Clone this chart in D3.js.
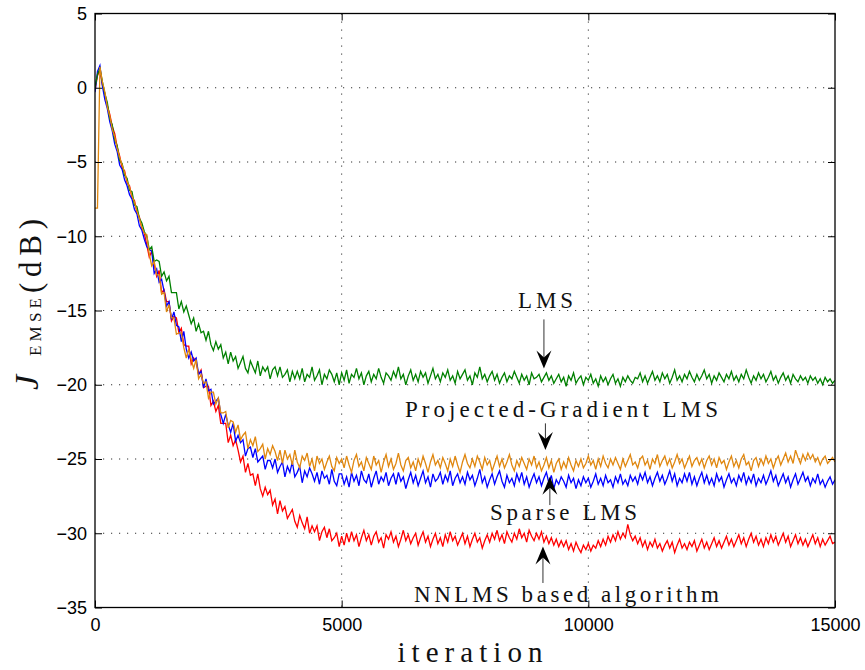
<!DOCTYPE html>
<html lang="en">

<head>
	<meta charset="utf-8">
	<script src="https://d3js.org/d3.v7.min.js"></script>
	<style>
		body {
			margin: 0;
			background-color: white;
		}

		svg {
			display: block;
			background-color: white;
		}

		.axis text {
			font-family: 'Liberation Sans', Arial, sans-serif;
			font-size: 18px;
			fill: #000;
		}

		.axis line {
			stroke: #000;
			stroke-width: 1;
		}

		.axis path {
			display: none;
		}

		.grid line {
			stroke: #333;
			stroke-width: 1;
			stroke-dasharray: 1.2, 6.8;
		}

		.frame {
			fill: none;
			stroke: #000;
			stroke-width: 1.3;
		}

		.series {
			fill: none;
			stroke-width: 1.3;
			stroke-linejoin: miter;
		}

		.note {
			font-family: 'Liberation Serif', 'DejaVu Serif', serif;
			font-size: 23px;
			fill: #111;
		}

		.arrow line {
			stroke: #333;
			stroke-width: 1;
		}

		.arrow path {
			fill: #000;
		}

		.label {
			font-family: 'Liberation Serif', 'DejaVu Serif', serif;
			fill: #111;
		}
	</style>
</head>

<body>
	<svg width="865" height="670"></svg>
	<script>
		// ---- data (one value every 50 iterations) ----
		const iterations = d3.range(0, 15001, 50);

		const lmsValues = [
			0.0, 0.9, 1.3, 0.4, -0.4, -1.0, -2.1, -2.5, -3.5, -3.9,
			-4.9, -5.1, -5.9, -6.1, -6.9, -7.0, -7.9, -8.0, -8.8, -9.1,
			-9.7, -10.0, -10.9, -10.7, -11.7, -11.6, -11.7, -12.7, -12.4, -13.0,
			-12.7, -13.8, -13.8, -13.8, -14.9, -14.4, -15.1, -14.7, -15.3, -15.9,
			-15.5, -16.4, -15.9, -16.5, -16.4, -17.0, -16.4, -17.3, -17.7, -17.1,
			-17.6, -17.3, -18.2, -17.8, -18.6, -17.8, -18.4, -18.1, -18.9, -18.5,
			-18.1, -18.9, -19.2, -18.4, -18.8, -19.2, -18.4, -19.4, -18.8, -19.1,
			-18.8, -19.6, -19.0, -18.8, -19.4, -18.8, -19.5, -19.3, -19.0, -19.8,
			-19.1, -19.6, -19.1, -19.6, -18.9, -19.8, -19.3, -19.5, -18.8, -19.7,
			-19.4, -19.0, -20.0, -19.3, -19.6, -19.0, -19.3, -19.8, -19.2, -20.0,
			-19.2, -19.7, -19.0, -19.9, -19.3, -19.5, -18.9, -19.6, -19.2, -20.0,
			-19.4, -19.1, -19.8, -19.3, -19.6, -18.9, -19.5, -19.9, -19.2, -19.4,
			-19.7, -19.1, -19.5, -18.8, -19.6, -19.3, -20.0, -19.4, -19.0, -19.7,
			-19.3, -19.8, -19.1, -19.5, -19.2, -19.9, -19.4, -18.9, -19.6, -19.3,
			-19.8, -19.2, -19.5, -19.0, -19.7, -19.4, -19.9, -19.1, -19.6, -19.3,
			-19.0, -19.7, -19.4, -20.0, -19.2, -19.5, -18.8, -19.6, -19.3, -19.8,
			-19.4, -19.1, -19.7, -19.3, -19.9, -19.5, -19.2, -19.8, -19.4, -19.6,
			-19.1, -19.5, -19.9, -19.3, -19.7, -19.4, -20.0, -19.2, -19.6, -19.5,
			-19.3, -19.8, -19.5, -19.2, -19.7, -19.4, -19.9, -19.6, -19.3, -19.8,
			-19.5, -20.1, -19.4, -19.7, -19.2, -19.9, -19.6, -19.4, -20.0, -19.5,
			-19.7, -19.3, -19.9, -19.6, -20.1, -19.4, -19.8, -19.5, -20.0, -19.6,
			-19.3, -19.9, -19.6, -20.1, -19.5, -19.8, -19.4, -19.7, -19.9, -19.5,
			-19.6, -19.2, -19.8, -19.4, -19.9, -19.5, -19.1, -19.7, -19.4, -19.8,
			-19.2, -19.6, -19.3, -19.9, -19.5, -19.0, -19.7, -19.4, -19.8, -19.3,
			-19.6, -19.1, -19.5, -19.8, -19.3, -19.7, -19.4, -19.0, -19.6, -19.3,
			-19.9, -19.4, -19.7, -19.2, -19.5, -19.8, -19.3, -19.6, -19.1, -19.7,
			-19.4, -19.8, -19.3, -19.6, -19.0, -19.5, -19.9, -19.4, -19.7, -19.2,
			-19.6, -19.3, -19.8, -19.5, -19.1, -19.7, -19.4, -19.9, -19.5, -19.2,
			-19.7, -19.4, -19.9, -19.3, -19.6, -19.8, -19.4, -19.7, -19.5, -19.9,
			-19.4, -19.7, -19.5, -19.9, -19.6, -20.0, -19.5, -19.8, -19.6, -19.9,
			-19.7
		];

		const sparseLmsValues = [
			-0.3, 1.1, 1.5, 0.1, -0.8, -1.4, -2.3, -2.9, -3.8, -4.3,
			-5.2, -5.5, -6.2, -6.6, -7.2, -7.5, -8.2, -8.5, -9.3, -9.6,
			-10.2, -10.7, -10.9, -11.0, -12.5, -12.2, -13.1, -12.9, -13.7, -14.7,
			-14.4, -15.6, -15.1, -16.0, -16.1, -17.1, -16.4, -17.6, -18.2, -17.8,
			-18.4, -18.2, -19.3, -19.1, -20.2, -19.6, -20.4, -20.3, -21.3, -21.1,
			-20.9, -22.0, -22.6, -22.0, -22.7, -23.2, -22.6, -23.8, -23.4, -23.9,
			-23.7, -24.8, -24.3, -24.2, -24.9, -24.3, -25.2, -25.0, -24.8, -25.7,
			-25.1, -25.1, -25.6, -25.0, -25.9, -25.5, -25.2, -26.2, -25.5, -25.9,
			-25.2, -26.2, -25.9, -25.5, -26.6, -25.8, -26.2, -25.6, -26.0, -26.5,
			-25.9, -26.7, -25.8, -26.3, -26.1, -26.7, -25.7, -26.5, -26.8, -26.0,
			-26.0, -26.7, -26.2, -26.9, -25.9, -26.5, -26.1, -26.8, -25.8, -26.4,
			-26.6, -26.0, -26.9, -26.3, -25.8, -26.7, -26.2, -26.5, -25.9, -26.8,
			-26.3, -26.0, -26.7, -25.9, -26.5, -26.2, -27.0, -26.4, -25.9, -26.6,
			-26.1, -26.8, -26.3, -25.8, -26.6, -26.2, -26.9, -26.0, -26.5, -26.3,
			-25.9, -26.7, -26.1, -26.5, -25.8, -26.8, -26.3, -26.0, -26.6, -26.2,
			-26.7, -25.9, -26.4, -26.1, -26.8, -26.3, -25.7, -26.6, -26.2, -26.9,
			-26.4, -26.0, -26.7, -26.2, -25.8, -26.5, -26.9, -26.1, -26.6, -26.3,
			-26.8, -26.0, -26.5, -25.9, -26.7, -26.2, -26.9, -26.4, -26.0, -26.6,
			-26.2, -26.8, -26.3, -25.9, -26.6, -26.1, -27.0, -26.4, -26.7, -26.2,
			-26.5, -26.9, -26.1, -26.6, -26.3, -27.0, -26.4, -26.8, -26.2, -26.6,
			-26.3, -26.9, -26.5, -26.0, -26.7, -26.3, -26.8, -26.1, -26.6, -26.4,
			-26.9, -26.2, -26.6, -26.0, -26.7, -26.4, -26.8, -26.1, -26.5, -26.2,
			-26.7, -26.0, -26.4, -25.9, -26.6, -26.2, -26.8, -26.3, -25.9, -26.5,
			-26.1, -26.7, -26.3, -25.8, -26.5, -26.0, -26.8, -26.3, -26.6, -26.0,
			-26.5, -25.9, -26.7, -26.2, -26.8, -26.3, -25.9, -26.6, -26.1, -26.7,
			-26.3, -26.8, -26.0, -26.5, -26.2, -26.9, -26.4, -26.0, -26.6, -26.3,
			-26.8, -26.1, -26.5, -25.9, -26.7, -26.2, -26.6, -26.0, -26.8, -26.3,
			-26.6, -26.1, -26.7, -26.3, -25.8, -26.5, -26.1, -26.8, -26.4, -26.0,
			-26.6, -26.2, -26.9, -26.4, -26.0, -26.7, -26.3, -25.9, -26.5, -26.2,
			-26.8, -26.3, -26.6, -26.0, -26.7, -26.4, -26.9, -26.5, -26.2, -26.7,
			-26.4
		];

		const nnlmsValues = [
			-0.2, 0.8, 1.2, 0.2, -0.4, -1.2, -1.8, -2.6, -3.1, -4.0,
			-4.6, -5.4, -5.6, -6.4, -6.6, -7.4, -7.6, -8.4, -8.7, -9.5,
			-9.8, -10.6, -11.4, -11.0, -11.9, -12.7, -12.3, -13.8, -13.6, -14.4,
			-14.4, -15.7, -15.4, -15.5, -16.5, -16.2, -17.3, -17.4, -17.4, -18.6,
			-18.2, -18.5, -19.3, -19.0, -20.2, -20.1, -20.1, -21.4, -21.1, -21.8,
			-21.4, -22.6, -22.6, -22.6, -23.9, -23.4, -24.1, -23.7, -24.4, -25.2,
			-24.8, -25.9, -25.3, -26.1, -26.0, -26.8, -26.0, -27.0, -27.5, -26.9,
			-27.4, -27.1, -28.1, -27.7, -28.7, -27.8, -28.5, -28.2, -29.0, -28.7,
			-28.4, -29.2, -29.6, -28.8, -29.3, -29.7, -28.9, -30.0, -29.5, -29.9,
			-29.5, -30.5, -29.9, -29.6, -30.3, -29.7, -30.5, -30.3, -30.0, -30.9,
			-30.2, -30.8, -30.0, -30.6, -29.9, -30.5, -30.1, -30.9, -30.3, -29.8,
			-30.5, -30.1, -30.8, -30.2, -29.9, -30.6, -30.3, -31.0, -30.1, -30.4,
			-29.9, -30.6, -30.2, -30.9, -30.4, -29.8, -30.5, -30.1, -30.7, -30.3,
			-30.0, -30.8, -30.3, -29.9, -30.6, -30.2, -30.9, -30.4, -30.0, -30.7,
			-30.3, -30.9, -30.1, -30.6, -29.9, -30.5, -30.2, -30.8, -30.4, -30.0,
			-30.7, -30.2, -30.9, -30.4, -30.0, -30.6, -30.3, -31.0, -30.5, -30.1,
			-30.6, -30.0, -30.4, -29.8, -30.5, -30.1, -30.7, -29.9, -30.3, -30.6,
			-30.0, -30.4, -29.7, -30.3, -30.0, -30.6, -29.8, -30.2, -30.5, -30.0,
			-30.4, -29.9, -30.6, -30.2, -30.7, -30.3, -30.8, -30.4, -30.9, -30.5,
			-30.9, -30.5, -31.1, -30.7, -31.2, -30.6, -31.0, -31.3, -30.8, -31.1,
			-30.7, -31.2, -30.8, -31.0, -30.5, -30.9, -30.4, -30.8, -30.2, -30.6,
			-30.1, -30.5, -29.9, -30.4, -30.0, -30.3, -29.4, -30.1, -30.5, -30.2,
			-30.7, -30.3, -30.9, -30.5, -31.1, -30.6, -30.9, -30.4, -31.0, -30.7,
			-31.2, -30.8, -30.5, -31.0, -30.6, -31.3, -30.8, -30.4, -31.0, -30.7,
			-31.1, -30.6, -30.9, -30.5, -31.2, -30.8, -30.4, -31.0, -30.6, -31.1,
			-30.7, -30.3, -30.9, -30.5, -31.0, -30.6, -30.2, -30.8, -30.4, -30.9,
			-30.5, -30.1, -30.7, -30.3, -30.9, -30.4, -30.0, -30.6, -30.2, -30.8,
			-30.4, -30.9, -30.3, -30.7, -30.1, -30.6, -30.2, -30.8, -30.4, -30.0,
			-30.6, -30.2, -30.9, -30.5, -30.1, -30.7, -30.3, -30.8, -30.4, -30.9,
			-30.5, -30.1, -30.7, -30.3, -30.9, -30.4, -30.8, -30.5, -30.2, -30.7,
			-30.6
		];

		const pgLmsValues = [
			-8.1, -8.1, 1.4, 0.4, -0.3, -1.3, -1.9, -2.8, -3.3, -4.1,
			-4.7, -5.2, -5.7, -6.3, -6.7, -7.3, -7.7, -8.3, -8.8, -9.4,
			-9.8, -9.9, -11.2, -12.0, -11.7, -12.6, -12.6, -13.9, -13.8, -15.1,
			-14.6, -15.5, -15.5, -16.6, -16.5, -16.5, -17.5, -18.2, -17.6, -18.3,
			-18.9, -18.3, -19.6, -19.3, -19.9, -19.8, -20.9, -20.5, -20.5, -21.3,
			-20.9, -21.9, -21.9, -21.8, -22.9, -22.4, -22.5, -23.2, -22.7, -23.7,
			-23.4, -23.2, -24.3, -23.7, -24.1, -23.5, -24.5, -24.3, -24.0, -25.0,
			-24.3, -24.7, -24.1, -24.5, -25.1, -24.4, -25.3, -24.4, -25.0, -24.7,
			-25.4, -24.4, -25.2, -25.6, -24.8, -25.1, -24.6, -25.5, -25.0, -25.8,
			-24.8, -25.3, -25.0, -25.7, -25.2, -24.8, -25.5, -25.8, -24.9, -25.3,
			-25.0, -25.6, -24.8, -25.4, -25.9, -25.1, -24.7, -25.5, -25.2, -25.8,
			-24.9, -25.3, -25.7, -24.8, -25.4, -25.1, -25.9, -25.2, -24.7, -25.5,
			-25.0, -25.7, -25.3, -24.6, -25.4, -25.8, -25.1, -24.9, -25.6, -25.2,
			-25.8, -25.0, -25.5, -24.8, -25.3, -25.9, -25.2, -24.7, -25.4, -25.1,
			-25.6, -24.9, -25.3, -25.8, -25.0, -25.5, -24.8, -25.4, -25.9, -25.2,
			-24.7, -25.3, -25.6, -25.0, -25.5, -24.8, -25.2, -25.7, -24.9, -25.4,
			-25.1, -25.8, -25.3, -24.8, -25.5, -25.0, -25.6, -25.2, -24.7, -25.4,
			-25.8, -25.1, -25.5, -24.9, -25.3, -25.7, -25.0, -25.4, -24.8, -25.6,
			-25.2, -25.8, -25.4, -24.9, -25.6, -25.1, -25.9, -25.3, -25.0, -25.7,
			-25.2, -25.6, -24.9, -25.4, -25.8, -25.1, -25.5, -25.0, -25.6, -25.3,
			-24.8, -25.4, -25.1, -25.7, -25.0, -25.5, -24.8, -25.3, -25.6, -25.0,
			-25.4, -24.9, -25.3, -25.7, -25.0, -25.5, -25.1, -24.7, -25.4, -25.2,
			-25.6, -25.0, -24.8, -25.4, -25.1, -25.7, -25.0, -25.3, -24.7, -25.5,
			-25.1, -24.8, -25.4, -25.0, -25.6, -25.2, -24.7, -25.3, -25.0, -25.6,
			-25.2, -24.8, -25.5, -25.1, -24.9, -25.4, -25.0, -25.6, -25.1, -24.8,
			-25.4, -25.0, -25.6, -24.9, -25.3, -25.1, -25.7, -25.2, -24.8, -25.5,
			-25.1, -25.6, -25.0, -24.7, -25.4, -25.2, -25.8, -25.1, -24.9, -25.5,
			-25.0, -25.4, -24.8, -25.3, -25.0, -25.6, -25.1, -24.8, -25.4, -25.0,
			-24.6, -25.2, -24.8, -25.3, -24.4, -24.9, -25.3, -24.7, -25.1, -24.6,
			-25.0, -24.7, -25.2, -24.9, -25.4, -25.0, -24.8, -25.3, -25.1, -24.9,
			-25.2
		];

		const xTicks = [0, 5000, 10000, 15000];
		const yTicks = [5, 0, -5, -10, -15, -20, -25, -30, -35];
		const noteLabels = ["LMS", "Projected-Gradient LMS", "Sparse LMS", "NNLMS based algorithm"];

		// ---- basic set up ----
		const width = 865;
		const height = 670;
		const margin = { top: 13.5, right: 30, bottom: 62.5, left: 95 };

		const x = d3.scaleLinear().domain([0, 15000]).range([margin.left, width - margin.right]);
		const y = d3.scaleLinear().domain([-35, 5]).range([height - margin.bottom, margin.top]);
		const svg = d3.select("svg");

		const plotW = width - margin.left - margin.right;
		const plotH = height - margin.top - margin.bottom;

		svg.append("defs").append("clipPath")
			.attr("id", "plot-clip")
			.append("rect")
			.attr("x", margin.left)
			.attr("y", margin.top)
			.attr("width", plotW)
			.attr("height", plotH);

		// dotted grid
		const grid = svg.append("g").attr("class", "grid");
		grid.selectAll("line.gx")
			.data(xTicks.slice(1, -1))
			.enter().append("line")
			.attr("class", "gx")
			.attr("x1", d => x(d)).attr("x2", d => x(d))
			.attr("y1", margin.top).attr("y2", height - margin.bottom);
		grid.selectAll("line.gy")
			.data(yTicks.slice(1, -1))
			.enter().append("line")
			.attr("class", "gy")
			.attr("x1", margin.left).attr("x2", width - margin.right)
			.attr("y1", d => y(d)).attr("y2", d => y(d));

		// curves, orange drawn last like the original
		const series = [
			{ values: nnlmsValues, color: "#ff0000" },
			{ values: sparseLmsValues, color: "#0000ff" },
			{ values: lmsValues, color: "#008000" },
			{ values: pgLmsValues, color: "#e0870f" }
		];

		const line = d3.line()
			.x((d, i) => x(iterations[i]))
			.y(d => y(d));

		svg.append("g")
			.attr("clip-path", "url(#plot-clip)")
			.selectAll("path")
			.data(series)
			.enter().append("path")
			.attr("class", "series")
			.attr("stroke", d => d.color)
			.attr("d", d => line(d.values));

		// axes, MATLAB style ticks pointing inwards on all four sides
		const fmt = d3.format("d");
		svg.append("g")
			.attr("class", "axis axis-x")
			.attr("transform", "translate(0," + (height - margin.bottom) + ")")
			.call(d3.axisBottom(x).tickValues(xTicks).tickSizeInner(-7).tickSizeOuter(0).tickPadding(11).tickFormat(fmt));
		svg.append("g")
			.attr("class", "axis")
			.attr("transform", "translate(0," + margin.top + ")")
			.call(d3.axisTop(x).tickValues(xTicks).tickSizeInner(-7).tickSizeOuter(0).tickFormat(""));
		svg.append("g")
			.attr("class", "axis axis-y")
			.attr("transform", "translate(" + margin.left + ",0)")
			.call(d3.axisLeft(y).tickValues(yTicks).tickSizeInner(-7).tickSizeOuter(0).tickPadding(8).tickFormat(fmt));
		svg.append("g")
			.attr("class", "axis")
			.attr("transform", "translate(" + (width - margin.right) + ",0)")
			.call(d3.axisRight(y).tickValues(yTicks).tickSizeInner(-7).tickSizeOuter(0).tickFormat(""));

		svg.append("rect")
			.attr("class", "frame")
			.attr("x", margin.left)
			.attr("y", margin.top)
			.attr("width", plotW)
			.attr("height", plotH);

		// annotations (data coordinates)
		const noteText = [
			{ at: [9132, -14.83], len: 55 },
			{ at: [9456, -22.17], len: 313 },
			{ at: [9497, -29.11], len: 147 },
			{ at: [9557, -34.63], len: 305 }
		];
		const noteArrows = [
			{ from: [9100, -15.6], to: [9100, -18.9] },
			{ from: [9130, -22.6], to: [9130, -24.4] },
			{ from: [9220, -28.1], to: [9220, -26.2] },
			{ from: [9080, -33.35], to: [9080, -30.9] }
		];

		svg.append("g")
			.selectAll("text")
			.data(noteText)
			.enter().append("text")
			.attr("class", "note")
			.attr("text-anchor", "middle")
			.attr("x", d => x(d.at[0]))
			.attr("y", d => y(d.at[1]))
			.attr("textLength", d => d.len)
			.attr("lengthAdjust", "spacing")
			.text((d, i) => noteLabels[i]);

		const drawArrow = function (a) {
			const x1 = x(a.from[0]), y1 = y(a.from[1]);
			const x2 = x(a.to[0]), y2 = y(a.to[1]);
			const ang = Math.atan2(y2 - y1, x2 - x1);
			const g = svg.append("g").attr("class", "arrow");
			g.append("line")
				.attr("x1", x1).attr("y1", y1)
				.attr("x2", x2 - 10 * Math.cos(ang)).attr("y2", y2 - 10 * Math.sin(ang));
			g.append("path")
				.attr("d", "M0,0 L-18,-7.5 L-11,0 L-18,7.5 Z")
				.attr("transform", "translate(" + x2 + "," + y2 + ") rotate(" + (ang * 180 / Math.PI) + ")");
		}
		noteArrows.forEach(drawArrow);

		// axis titles
		svg.append("text")
			.attr("class", "label")
			.attr("x", 470)
			.attr("y", 662)
			.attr("text-anchor", "middle")
			.attr("font-size", 29)
			.attr("textLength", 145)
			.attr("lengthAdjust", "spacing")
			.text("iteration");

		const yl = svg.append("g").attr("transform", "rotate(-90)");
		yl.append("text")
			.attr("class", "label")
			.attr("x", -390)
			.attr("y", 38)
			.attr("font-size", 34)
			.attr("font-style", "italic")
			.text("J");
		yl.append("text")
			.attr("class", "label")
			.attr("x", -356)
			.attr("y", 41)
			.attr("font-size", 17)
			.attr("textLength", 58)
			.attr("lengthAdjust", "spacing")
			.text("EMSE");
		yl.append("text")
			.attr("class", "label")
			.attr("x", -293)
			.attr("y", 41)
			.attr("font-size", 31)
			.attr("textLength", 74)
			.attr("lengthAdjust", "spacing")
			.text("(dB)");
	</script>
</body>

</html>
